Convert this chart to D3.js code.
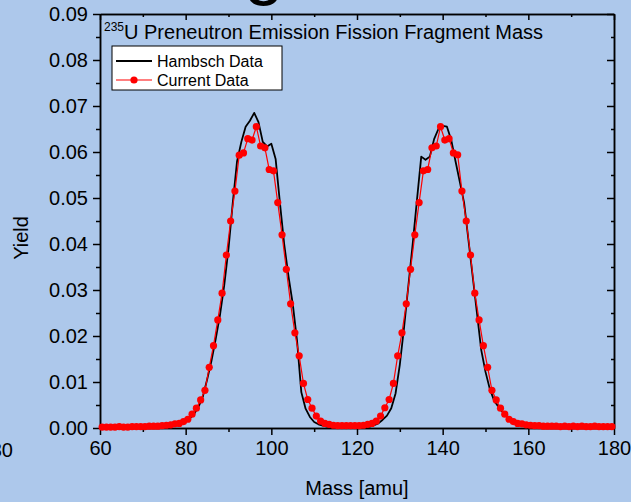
<!DOCTYPE html>
<html><head><meta charset="utf-8">
<script src="https://cdn.jsdelivr.net/npm/d3@7"></script>
<style>
html,body{margin:0;padding:0;background:#adc8eb;}
svg{display:block;font-family:"Liberation Sans",Arial,sans-serif;}
</style></head>
<body>
<svg id="c" width="631" height="502"></svg>
<script>
// ---- data ----
const xTicks = [60, 80, 100, 120, 140, 160, 180];
const xMinor = [70, 90, 110, 130, 150, 170];
const yTicks = [0, 0.01, 0.02, 0.03, 0.04, 0.05, 0.06, 0.07, 0.08, 0.09];
const yMinor = [0.005, 0.015, 0.025, 0.035, 0.045, 0.055, 0.065, 0.075, 0.085];

// Current Data (red, with markers)
const currentMass = [60.5,61.5,62.5,63.5,64.5,65.5,66.5,67.5,68.5,69.5,70.5,71.5,72.5,73.5,74.5,75.5,76.5,77.5,78.5,79.5,
  80.5,81.5,82.5,83.5,84.5,85.5,86.5,87.5,88.5,89.5,90.5,91.5,92.5,93.5,94.5,95.5,96.5,97.5,98.5,99.5,
  100.5,101.5,102.5,103.5,104.5,105.5,106.5,107.5,108.5,109.5,110.5,111.5,112.5,113.5,114.5,115.5,116.5,117.5,118.5,119.5,
  120.5,121.5,122.5,123.5,124.5,125.5,126.5,127.5,128.5,129.5,130.5,131.5,132.5,133.5,134.5,135.5,136.5,137.5,138.5,139.5,
  140.5,141.5,142.5,143.5,144.5,145.5,146.5,147.5,148.5,149.5,150.5,151.5,152.5,153.5,154.5,155.5,156.5,157.5,158.5,159.5,
  160.5,161.5,162.5,163.5,164.5,165.5,166.5,167.5,168.5,169.5,170.5,171.5,172.5,173.5,174.5,175.5,176.5,177.5,178.5,179.5];
const currentYield = [0.0002,0.0002,0.0002,0.0002,0.0003,0.0002,0.0002,0.0003,0.0003,0.0003,0.0003,0.0004,0.0004,0.0004,0.0005,0.0006,0.0007,0.0009,0.0010,0.0014,
  0.0019,0.0030,0.0043,0.0061,0.0082,0.0132,0.0179,0.0235,0.0293,0.0376,0.0450,0.0515,0.0593,0.0598,0.0629,0.0626,0.0655,0.0613,0.0609,0.0562,
  0.0559,0.0490,0.0420,0.0345,0.0270,0.0207,0.0157,0.0097,0.0062,0.0043,0.0026,0.0015,0.0010,0.0008,0.0006,0.0005,0.0005,0.0005,0.0005,0.0005,
  0.0005,0.0006,0.0008,0.0010,0.0015,0.0026,0.0044,0.0062,0.0097,0.0157,0.0207,0.0270,0.0345,0.0420,0.0490,0.0559,0.0562,0.0609,0.0613,0.0655,
  0.0626,0.0629,0.0598,0.0594,0.0515,0.0450,0.0376,0.0293,0.0235,0.0179,0.0132,0.0082,0.0061,0.0043,0.0030,0.0019,0.0014,0.0010,0.0009,0.0007,
  0.0006,0.0005,0.0005,0.0004,0.0004,0.0004,0.0004,0.0003,0.0004,0.0003,0.0004,0.0003,0.0004,0.0003,0.0003,0.0004,0.0003,0.0003,0.0003,0.0003];

// Hambsch Data (black line)
const hambschMass = [60,61,62,63,64,65,66,67,68,69,70,71,72,73,74,75,76,77,78,79,
  80,81,82,83,84,85,86,87,88,89,90,91,92,93,94,95,96,97,98,99,
  100,101,102,103,104,105,106,107,108,109,110,111,112,113,114,115,116,117,118,119,
  120,121,122,123,124,125,126,127,128,129,130,131,132,133,134,135,136,137,138,139,
  140,141,142,143,144,145,146,147,148,149,150,151,152,153,154,155,156,157,158,159,
  160,161,162,163,164,165,166,167,168,169,170,171,172,173,174,175,176,177,178,179,180];
const hambschYield = [0,0,0,0,0,0,0,0,0,0,0,0.0001,0.0001,0.0002,0.0003,0.0004,0.0005,0.0007,0.0009,0.0011,
  0.0015,0.0021,0.0031,0.0046,0.0068,0.0105,0.0145,0.0193,0.0245,0.0310,0.0390,0.0490,0.0580,0.0622,0.0655,0.0668,0.0685,0.0665,0.0622,0.0612,
  0.0618,0.0585,0.0490,0.0400,0.0330,0.0270,0.0190,0.0078,0.0042,0.0024,0.0013,0.0008,0.0005,0.0003,0.0001,0,0,0,0,0,
  0,0,0,0.0003,0.0006,0.0010,0.0018,0.0027,0.0043,0.0075,0.0138,0.0220,0.0310,0.0400,0.0496,0.0590,0.0583,0.0590,0.0628,0.0650,
  0.0657,0.0655,0.0626,0.0580,0.0535,0.0490,0.0410,0.0330,0.0250,0.0170,0.0122,0.0085,0.0060,0.0046,0.0035,0.0026,0.0019,0.0015,0.0011,0.0009,
  0.0007,0.0005,0.0004,0.0003,0.0002,0.0001,0,0,0,0,0,0,0,0,0,0,0,0,0,0,0];

const titleSup = "235";
const titleMain = "U Preneutron Emission Fission Fragment Mass";
const legendLabels = ["Hambsch Data", "Current Data"];

// ---- chart ----
const svg = d3.select("#c");
const x = d3.scaleLinear().domain([60, 180]).range([100, 614]);
const y = d3.scaleLinear().domain([0, 0.09]).range([428, 14]);

// stray cut-off texts from surrounding slide
svg.append("text").attr("x", 244).attr("y", -9).attr("font-size", 72).attr("fill", "#000").text("g");
svg.append("text").attr("x", 13).attr("y", 457).attr("text-anchor", "end").attr("font-size", 20).attr("fill", "#000").text("180");

const fmtY = d3.format(".2f");
const axisStyle = g => { g.selectAll("path,line").attr("stroke", "#000").attr("stroke-width", 1.5); g.selectAll("text").attr("font-size", 20).attr("fill","#000").attr("font-family","Liberation Sans, Arial, sans-serif"); };

// bottom
svg.append("g").attr("transform", "translate(0,428)")
  .call(d3.axisBottom(x).tickValues(xTicks).tickSize(7).tickPadding(6).tickSizeOuter(0).tickFormat(d3.format("d")))
  .call(axisStyle);
svg.append("g").attr("transform", "translate(0,428)")
  .call(d3.axisBottom(x).tickValues(xMinor).tickSize(4).tickSizeOuter(0).tickFormat(""))
  .call(axisStyle);
// top
svg.append("g").attr("transform", "translate(0,14)")
  .call(d3.axisTop(x).tickValues(xTicks).tickSize(-6).tickSizeOuter(0).tickFormat(""))
  .call(axisStyle);
svg.append("g").attr("transform", "translate(0,14)")
  .call(d3.axisTop(x).tickValues(xMinor).tickSize(-3).tickSizeOuter(0).tickFormat(""))
  .call(axisStyle);
// left
svg.append("g").attr("transform", "translate(100,0)")
  .call(d3.axisLeft(y).tickValues(yTicks).tickSize(7).tickPadding(5).tickSizeOuter(0).tickFormat(fmtY))
  .call(axisStyle);
svg.append("g").attr("transform", "translate(100,0)")
  .call(d3.axisLeft(y).tickValues(yMinor).tickSize(4).tickSizeOuter(0).tickFormat(""))
  .call(axisStyle);
// right
svg.append("g").attr("transform", "translate(614,0)")
  .call(d3.axisRight(y).tickValues(yTicks).tickSize(-7).tickSizeOuter(0).tickFormat(""))
  .call(axisStyle);
svg.append("g").attr("transform", "translate(614,0)")
  .call(d3.axisRight(y).tickValues(yMinor).tickSize(-3).tickSizeOuter(0).tickFormat(""))
  .call(axisStyle);

// axis titles
svg.append("text").attr("x", 357).attr("y", 495).attr("text-anchor", "middle").attr("font-size", 20).text("Mass [amu]");
svg.append("text").attr("transform", "translate(28,238) rotate(-90)").attr("text-anchor", "middle").attr("font-size", 20).text("Yield");

// title
const t = svg.append("text").attr("x", 104).attr("y", 39).attr("font-size", 20).attr("fill", "#000");
t.append("tspan").attr("font-size", 12).attr("dy", -8).text(titleSup);
t.append("tspan").attr("dy", 8).text(titleMain);

// lines
const hData = hambschMass.map((m, i) => [m, hambschYield[i]]);
const cData = currentMass.map((m, i) => [m, currentYield[i]]);
const line = d3.line().x(d => x(d[0])).y(d => y(d[1]));

svg.append("path").datum(hData).attr("d", line).attr("fill", "none").attr("stroke", "#000").attr("stroke-width", 1.8).attr("stroke-linejoin", "round");
svg.append("path").datum(cData).attr("d", line).attr("fill", "none").attr("stroke", "#ff0000").attr("stroke-width", 1.2);
svg.append("g").selectAll("circle").data(cData).join("circle")
  .attr("cx", d => x(d[0])).attr("cy", d => y(d[1])).attr("r", 3.6).attr("fill", "#ff0000");

// legend
const lg = svg.append("g");
lg.append("rect").attr("x", 112).attr("y", 46).attr("width", 170).attr("height", 44).attr("fill", "#fff").attr("stroke", "#000").attr("stroke-width", 1);
lg.append("line").attr("x1", 116).attr("x2", 152).attr("y1", 61).attr("y2", 61).attr("stroke", "#000").attr("stroke-width", 1.8);
lg.append("line").attr("x1", 116).attr("x2", 152).attr("y1", 80).attr("y2", 80).attr("stroke", "#ff0000").attr("stroke-width", 1.2);
lg.append("circle").attr("cx", 134).attr("cy", 80).attr("r", 3.6).attr("fill", "#ff0000");
lg.selectAll("text.lt").data(legendLabels).join("text").attr("class", "lt")
  .attr("x", 157).attr("y", (d, i) => 66.5 + i * 19.5).attr("font-size", 16).text(d => d);
</script>
</body></html>
